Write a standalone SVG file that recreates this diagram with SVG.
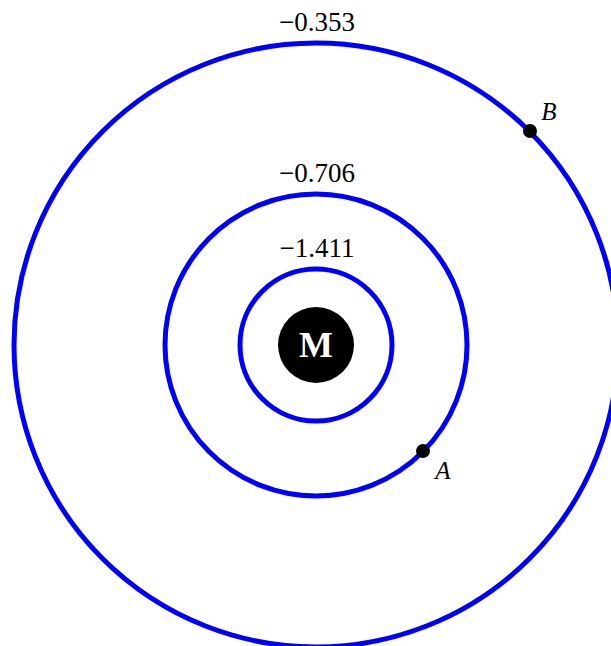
<svg xmlns="http://www.w3.org/2000/svg" width="611" height="646" viewBox="0 0 611 646">
<style>
.orbit{fill:none;stroke:#0000ff;stroke-width:5}
.lbl{font-family:"Liberation Serif",serif;font-size:27px;fill:#000;text-anchor:middle}
.pt{font-family:"Liberation Serif",serif;font-style:italic;font-size:25px;fill:#000;text-anchor:middle}
.dot{fill:#000}
</style>
<rect width="611" height="646" fill="#fff"/>
<g id="orbits">
<circle id="orbit1" class="orbit" cx="316" cy="345" r="76"/>
<circle id="orbit2" class="orbit" cx="316" cy="345" r="151"/>
<circle id="orbit3" class="orbit" cx="316" cy="345" r="302"/>
</g>
<g id="M">
<circle cx="316" cy="345" r="38" fill="#000"/>
<text x="316" y="357" font-family="Liberation Serif,serif" font-weight="bold" font-size="36" fill="#fff" text-anchor="middle">M</text>
</g>
<g id="labels">
<text class="lbl" x="317" y="31">−0.353</text>
<text class="lbl" x="317" y="182">−0.706</text>
<text class="lbl" x="317" y="257">−1.411</text>
</g>
<g id="A">
<circle class="dot" cx="423" cy="451" r="7"/>
<text class="pt" x="443" y="479">A</text>
</g>
<g id="B">
<circle class="dot" cx="530" cy="131" r="7"/>
<text class="pt" x="549" y="120">B</text>
</g>
</svg>
